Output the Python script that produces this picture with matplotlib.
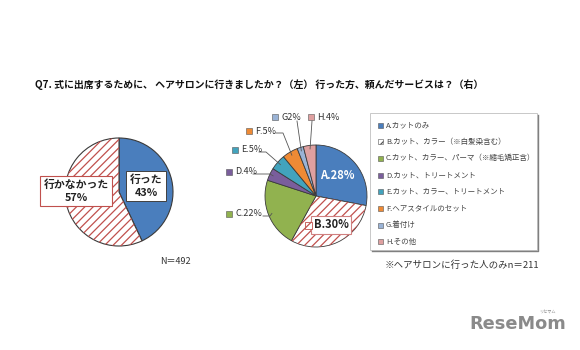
import math
import matplotlib
matplotlib.use("Agg")
import matplotlib.pyplot as plt
from matplotlib.patches import Wedge, Rectangle

plt.rcParams['font.family'] = ['Noto Sans CJK JP', 'DejaVu Sans']
plt.rcParams['hatch.linewidth'] = 0.9

# ---- data ----
title = "Q7. 式に出席するために、 ヘアサロンに行きましたか？（左） 行った方、頼んだサービスは？（右）"

left_labels = ["行った", "行かなかった"]
left_values = [43, 57]
left_n = "N＝492"

right_codes = ["A", "B", "C", "D", "E", "F", "G", "H"]
right_values = [28, 30, 22, 4, 5, 5, 2, 4]
right_pct_labels = ["A.28%", "B.30%", "C.22%", "D.4%", "E.5%", "F.5%", "G2%", "H.4%"]
legend_labels = [
    "A.カットのみ",
    "B.カット、カラー（※白髪染含む）",
    "C.カット、カラー、パーマ（※縮毛矯正含）",
    "D.カット、トリートメント",
    "E.カット、カラー、トリートメント",
    "F.ヘアスタイルのセット",
    "G.着付け",
    "H.その他",
]
right_note = "※ヘアサロンに行った人のみn＝211"

BLUE = "#4A7EBD"
RED = "#C0504D"
right_colors = ["#4A7EBD", "white", "#91B24F", "#7A5E9C", "#42A3BD",
                "#EE8A35", "#9AB3D6", "#DFA0A0"]
right_hatch = [None, "////", None, None, None, None, None, None]
EDGE = "#3A3A3A"

W, H = 580, 350
fig = plt.figure(figsize=(W / 100, H / 100), dpi=100)
ax = fig.add_axes([0, 0, 1, 1])


def Y(y):
    return H - y


def mid_angle(values, i):
    total = sum(values)
    before = sum(values[:i])
    return 90 - 360 * (before + values[i] / 2) / total


# ---- left pie ----
lc = (119, Y(192))
lr = 54
wl, _ = ax.pie(left_values, colors=[BLUE, "white"], startangle=90,
               counterclock=False, center=lc, radius=lr,
               wedgeprops=dict(edgecolor=EDGE, linewidth=0.8))
for w in wl[1:]:
    ax.add_patch(Wedge(w.center, w.r, w.theta1, w.theta2, fill=False,
                       hatch="////", edgecolor=RED, linewidth=0, zorder=1.5))

ax.text(146, Y(186), f"{left_labels[0]}\n{left_values[0]}%", ha="center", va="center",
        fontsize=7.8, fontweight="bold", color="#222222", linespacing=1.3,
        bbox=dict(boxstyle="square,pad=0.3", fc="white", ec="#404040", lw=0.7))
ax.text(76, Y(191), f"{left_labels[1]}\n{left_values[1]}%", ha="center", va="center",
        fontsize=7.8, fontweight="bold", color="#222222", linespacing=1.3,
        bbox=dict(boxstyle="square,pad=0.3", fc="white", ec=RED, lw=0.8))
ax.text(160, Y(262), left_n, ha="left", va="center", fontsize=6.5, color="#333333")

# ---- right pie ----
rc = (316, Y(196))
rr = 51
wr, _ = ax.pie(right_values, colors=right_colors, startangle=90,
               counterclock=False, center=rc, radius=rr,
               wedgeprops=dict(edgecolor=EDGE, linewidth=0.6))
for w, h in zip(wr, right_hatch):
    if h:
        ax.add_patch(Wedge(w.center, w.r, w.theta1, w.theta2, fill=False,
                           hatch=h, edgecolor=RED, linewidth=0, zorder=1.5))


def edge_point(i, frac=0.93):
    a = math.radians(mid_angle(right_values, i))
    return rc[0] + rr * frac * math.cos(a), rc[1] + rr * frac * math.sin(a)


# A label inside the slice
pa = edge_point(0, 0.55)
ax.text(pa[0], pa[1] + 3, right_pct_labels[0], ha="center", va="center", fontsize=8,
        fontweight="bold", color="white")

# B label in a box with its key
ax.text(331, Y(225), right_pct_labels[1], ha="center", va="center", fontsize=8,
        fontweight="bold", color="#222222",
        bbox=dict(boxstyle="square,pad=0.25", fc="white", ec="#D08080", lw=0.8))
ax.add_patch(Rectangle((305, Y(229)), 7, 7, fc="white", ec=RED, hatch="////", lw=0.6, zorder=3))

# small slices: key square, text and leader line
small = {
    # index: (square x, text y, leader path in pixels)
    2: (229, 214, [(263, 216), (270, 216)]),
    3: (229, 172, [(253, 174), (270, 174)]),
    4: (235, 150, [(259, 152), (266, 152)]),
    5: (249, 131, [(276, 133), (283, 133)]),
    6: (275, 117, [(297, 121)]),
    7: (311, 117, [(312, 121)]),
}
for i, (sx, ty, path) in small.items():
    ax.add_patch(Rectangle((sx - 3, Y(ty) - 3), 6, 6, fc=right_colors[i], ec="#555555",
                           lw=0.4))
    ax.text(sx + 6, Y(ty), right_pct_labels[i], ha="left", va="center", fontsize=6.5,
            color="#333333")
    ex, ey = edge_point(i)
    xs = [p[0] for p in path] + [ex]
    ys = [Y(p[1]) for p in path] + [ey]
    ax.plot(xs, ys, color="#555555", lw=0.6)

# ---- legend ----
lx0, ly0, lx1, ly1 = 370, 113, 537, 250
ax.add_patch(Rectangle((lx0, Y(ly1)), lx1 - lx0, ly1 - ly0, fill=False,
                       ec="#C8C8C8", lw=0.7))
ax.plot([lx1 + 1, lx1 + 1, lx0 + 2], [Y(ly0 + 2), Y(ly1 + 1), Y(ly1 + 1)],
        color="#808080", lw=1.0)
for i, lab in enumerate(legend_labels):
    yy = 125 + i * 16.7
    ax.add_patch(Rectangle((378, Y(yy) - 2.5), 5, 5, fc=right_colors[i],
                           ec="#555555", lw=0.4, hatch=right_hatch[i]))
    ax.text(386, Y(yy), lab, ha="left", va="center", fontsize=5.45, color="#444444")

ax.text(385, Y(265), right_note, ha="left", va="center", fontsize=6.8, color="#333333")

# ---- title ----
ax.text(259, Y(85), title, ha="center", va="center", fontsize=7.15, fontweight="bold",
        color="#111111")

# ---- site mark ----
ax.text(518, Y(324), "ReseMom", ha="center", va="center", fontsize=12.8,
        fontweight="bold", color="#8A8A8A", family="DejaVu Sans")
ax.text(547, Y(312), "リセマム", ha="center", va="center", fontsize=3, color="#8A8A8A")

ax.set_xlim(0, W)
ax.set_ylim(0, H)
ax.set_aspect("auto")
ax.axis("off")

fig.savefig("out.png", dpi=100, facecolor="white")
